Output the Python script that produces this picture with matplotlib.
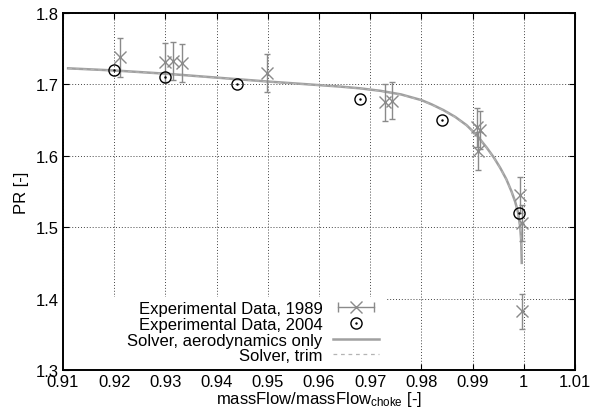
import matplotlib.pyplot as plt
from matplotlib.lines import Line2D
from matplotlib.patches import Rectangle
from matplotlib.legend_handler import HandlerLine2D, HandlerTuple

plt.rcParams['font.family'] = ['Liberation Sans', 'DejaVu Sans']

# Experimental data, 1989 (with error bars)
x_1989 = [0.9211, 0.9299, 0.9315, 0.9332, 0.9499, 0.9729, 0.9743,
          0.9908, 0.9914, 0.9910, 0.9993, 0.9996, 0.9997]
pr_1989 = [1.738, 1.731, 1.733, 1.730, 1.716, 1.675, 1.677,
           1.640, 1.636, 1.607, 1.545, 1.506, 1.382]
err_1989 = [0.027, 0.027, 0.027, 0.027, 0.027, 0.026, 0.026,
            0.027, 0.027, 0.027, 0.025, 0.025, 0.024]

# Experimental data, 2004
x_2004 = [0.920, 0.930, 0.944, 0.968, 0.984, 0.999]
pr_2004 = [1.720, 1.710, 1.700, 1.680, 1.650, 1.520]

# Solver curves
x_aero = [0.911, 0.920, 0.930, 0.940, 0.950, 0.958, 0.964, 0.968, 0.972,
          0.976, 0.980, 0.982, 0.9843, 0.9866, 0.9888, 0.9908, 0.9928,
          0.9942, 0.9954, 0.9966, 0.9976, 0.9983, 0.9989, 0.9993, 0.9995,
          0.9996]
pr_aero = [1.7225, 1.7195, 1.7150, 1.7095, 1.7040, 1.7000, 1.6970, 1.6945,
           1.6910, 1.6860, 1.6780, 1.6720, 1.6640, 1.6545, 1.6430, 1.6290,
           1.6110, 1.5970, 1.5830, 1.5670, 1.5500, 1.5360, 1.5200, 1.5000,
           1.4800, 1.4500]
x_trim = [0.911, 0.920, 0.930, 0.940, 0.950, 0.958, 0.964, 0.968, 0.972,
          0.976, 0.980, 0.982, 0.9843, 0.9866, 0.9888, 0.9908, 0.9928,
          0.9942, 0.9954, 0.9966, 0.9976, 0.9983, 0.9989, 0.9993, 0.9996,
          0.9997]
pr_trim = [1.7222, 1.7192, 1.7147, 1.7092, 1.7037, 1.6997, 1.6967, 1.6942,
           1.6906, 1.6855, 1.6775, 1.6715, 1.6635, 1.6540, 1.6425, 1.6285,
           1.6105, 1.5965, 1.5825, 1.5665, 1.5495, 1.5350, 1.5180, 1.4980,
           1.4750, 1.4600]

xticks = [0.91, 0.92, 0.93, 0.94, 0.95, 0.96, 0.97, 0.98, 0.99, 1.0, 1.01]
xtick_labels = ['0.91', '0.92', '0.93', '0.94', '0.95', '0.96', '0.97',
                '0.98', '0.99', '1', '1.01']
yticks = [1.3, 1.4, 1.5, 1.6, 1.7, 1.8]
ytick_labels = ['1.3', '1.4', '1.5', '1.6', '1.7', '1.8']

fig = plt.figure(figsize=(5.92, 4.14), dpi=100)
ax = fig.add_axes([0.1064, 0.1039, 0.8649, 0.8623])

grey = '#8a8a8a'
aero_col = '#a0a0a0'
trim_col = '#b4b4b4'

ax.errorbar(x_1989, pr_1989, yerr=err_1989, fmt='x', color=grey,
            markersize=9, markeredgewidth=1.0, elinewidth=1.0,
            capsize=2.5, capthick=1.0, zorder=3)
ax.plot(x_2004, pr_2004, 'o', markerfacecolor='none', markeredgecolor='black',
        markersize=8, markeredgewidth=1.0, zorder=4)
ax.plot(x_2004, pr_2004, '.', color='black', markersize=1.5, zorder=4)
ax.plot(x_aero, pr_aero, '-', color=aero_col, linewidth=1.8, zorder=2)
ax.plot(x_trim, pr_trim, '--', color=trim_col, linewidth=0.9,
        dashes=(3, 3), zorder=2)

ax.set_xlim(0.91, 1.01)
ax.set_ylim(1.3, 1.8)
ax.set_xticks(xticks)
ax.set_xticklabels(xtick_labels)
ax.set_yticks(yticks)
ax.set_yticklabels(ytick_labels)
ax.tick_params(direction='in', top=True, right=True, labelsize=12,
               length=4, width=0.8, pad=3)
ax.grid(True, color='#444444', linestyle=(0, (1, 2)), linewidth=0.7)
ax.set_axisbelow(True)
for s in ax.spines.values():
    s.set_linewidth(1.4)

ax.set_xlabel('massFlow/massFlow$\\mathregular{_{choke}}$ [-]', fontsize=12,
              labelpad=0)
ax.set_ylabel('PR [-]', fontsize=12, labelpad=5)

# white key area hides the grid, like gnuplot's opaque key
ax.add_patch(Rectangle((0, 0), 0.631, 0.2045, transform=ax.transAxes,
                       facecolor='white', edgecolor='none', zorder=1))

# Legend handles in gnuplot style
cap_line = Line2D([], [], color=grey, marker='|', markersize=7,
                  linewidth=1.0, markeredgewidth=1.0)
x_mark = Line2D([], [], color=grey, marker='x', markersize=9,
                linestyle='none', markeredgewidth=1.0)
circ = Line2D([], [], marker='o', markerfacecolor='none',
              markeredgecolor='black', markersize=8, linestyle='none')
dot = Line2D([], [], marker='.', color='black', markersize=1.5,
             linestyle='none')
aero_h = Line2D([], [], color=aero_col, linewidth=1.8)
trim_h = Line2D([], [], color=trim_col, linewidth=0.9, linestyle='--',
                dashes=(3, 3))

leg = ax.legend([(cap_line, x_mark), (circ, dot), aero_h, trim_h],
                ['Experimental Data, 1989', 'Experimental Data, 2004',
                 'Solver, aerodynamics only', 'Solver, trim'],
                handler_map={cap_line: HandlerLine2D(numpoints=2),
                             tuple: HandlerTuple(ndivide=1)},
                loc='lower right', bbox_to_anchor=(0.631, 0.0),
                markerfirst=False, numpoints=1, fontsize=12,
                handlelength=2.8, handletextpad=0.6, labelspacing=0.04,
                borderpad=0.4, borderaxespad=0.0, frameon=False)
for t in leg.get_texts():
    t.set_ha('right')
leg._legend_box.align = 'right'

fig.savefig('out.png', dpi=100)
